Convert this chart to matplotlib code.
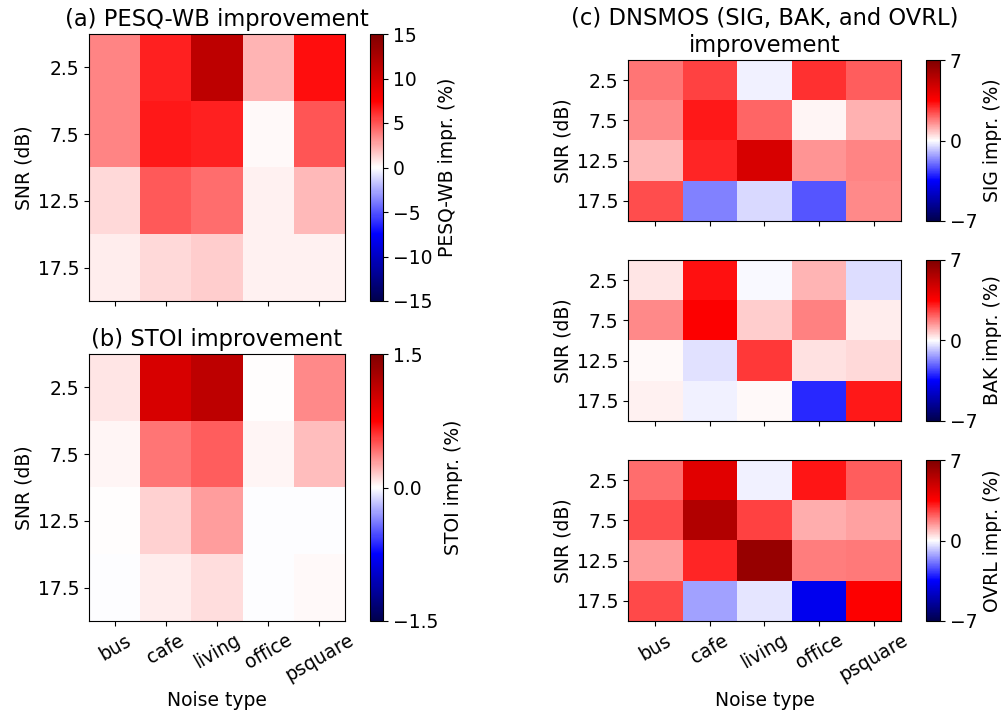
import numpy as np
import matplotlib
matplotlib.use("Agg")
import matplotlib.pyplot as plt

noise_types = ["bus", "cafe", "living", "office", "psquare"]
snr_labels = ["2.5", "7.5", "12.5", "17.5"]

# rows: SNR 2.5, 7.5, 12.5, 17.5 ; columns: noise types
pesq_impr = np.array([
    [3.6, 6.5, 11.3, 2.2, 7.1],
    [3.6, 6.7, 6.5, 0.2, 5.0],
    [1.1, 4.9, 4.3, 0.4, 2.1],
    [0.5, 1.1, 1.5, 0.4, 0.4],
])
stoi_impr = np.array([
    [0.08, 0.98, 1.13, 0.01, 0.34],
    [0.03, 0.40, 0.47, 0.03, 0.19],
    [0.005, 0.13, 0.29, -0.01, -0.01],
    [-0.01, 0.05, 0.10, -0.01, 0.02],
])
sig_impr = np.array([
    [1.9, 2.6, -0.2, 2.8, 2.2],
    [1.6, 3.15, 2.1, 0.14, 1.05],
    [0.98, 3.0, 4.55, 1.47, 1.68],
    [2.45, -1.7, -0.5, -2.3, 1.6],
])
bak_impr = np.array([
    [0.35, 3.25, -0.1, 1.0, -0.45],
    [1.6, 3.5, 0.7, 1.7, 0.25],
    [0.07, -0.42, 2.7, 0.42, 0.52],
    [0.17, -0.2, 0.1, -2.9, 3.15],
])
ovrl_impr = np.array([
    [2.0, 4.3, -0.2, 3.2, 2.2],
    [2.45, 5.6, 2.6, 1.1, 1.3],
    [1.33, 3.0, 6.3, 1.75, 1.85],
    [2.5, -1.3, -0.35, -3.8, 3.5],
])

W, H = 1004, 715
fig = plt.figure(figsize=(W / 100, H / 100), dpi=100)

TICK_FS = 13.5
LABEL_FS = 13.5
TITLE_FS = 16.3


def px_axes(x0, y0, x1, y1):
    return fig.add_axes([x0 / W, 1 - y1 / H, (x1 - x0) / W, (y1 - y0) / H])


def heatmap(box, cbox, data, vlim, cticks, clabel, show_x=False, title=None):
    ax = px_axes(*box)
    im = ax.imshow(data, cmap="seismic", vmin=-vlim, vmax=vlim, aspect="auto")
    ax.set_yticks(range(len(snr_labels)))
    ax.set_yticklabels(snr_labels, fontsize=TICK_FS)
    ax.set_xticks(range(len(noise_types)))
    if show_x:
        ax.set_xticklabels(noise_types, rotation=30, fontsize=TICK_FS)
        ax.set_xlabel("Noise type", fontsize=LABEL_FS)
    else:
        ax.set_xticklabels([])
    ax.set_ylabel("SNR (dB)", fontsize=LABEL_FS, labelpad=3)
    if title:
        ax.set_title(title, fontsize=TITLE_FS)
    cax = px_axes(*cbox)
    cb = fig.colorbar(im, cax=cax, ticks=cticks)
    cb.ax.tick_params(labelsize=TICK_FS)
    cb.set_label(clabel, fontsize=LABEL_FS)
    return ax


heatmap((89, 34, 345, 301), (370, 34, 383, 301), pesq_impr, 15,
        [-15, -10, -5, 0, 5, 10, 15], "PESQ-WB impr. (%)",
        title="(a) PESQ-WB improvement")
heatmap((89, 354, 345, 621), (370, 354, 383, 621), stoi_impr, 1.5,
        [-1.5, 0.0, 1.5], "STOI impr. (%)", show_x=True,
        title="(b) STOI improvement")

heatmap((628, 60, 901, 221), (926, 60, 940, 221), sig_impr, 7,
        [-7, 0, 7], "SIG impr. (%)",
        title="(c) DNSMOS (SIG, BAK, and OVRL)\nimprovement")
heatmap((628, 260, 901, 421), (926, 260, 940, 421), bak_impr, 7,
        [-7, 0, 7], "BAK impr. (%)")
heatmap((628, 460, 901, 621), (926, 460, 940, 621), ovrl_impr, 7,
        [-7, 0, 7], "OVRL impr. (%)", show_x=True)

fig.savefig("out.png", dpi=100)
